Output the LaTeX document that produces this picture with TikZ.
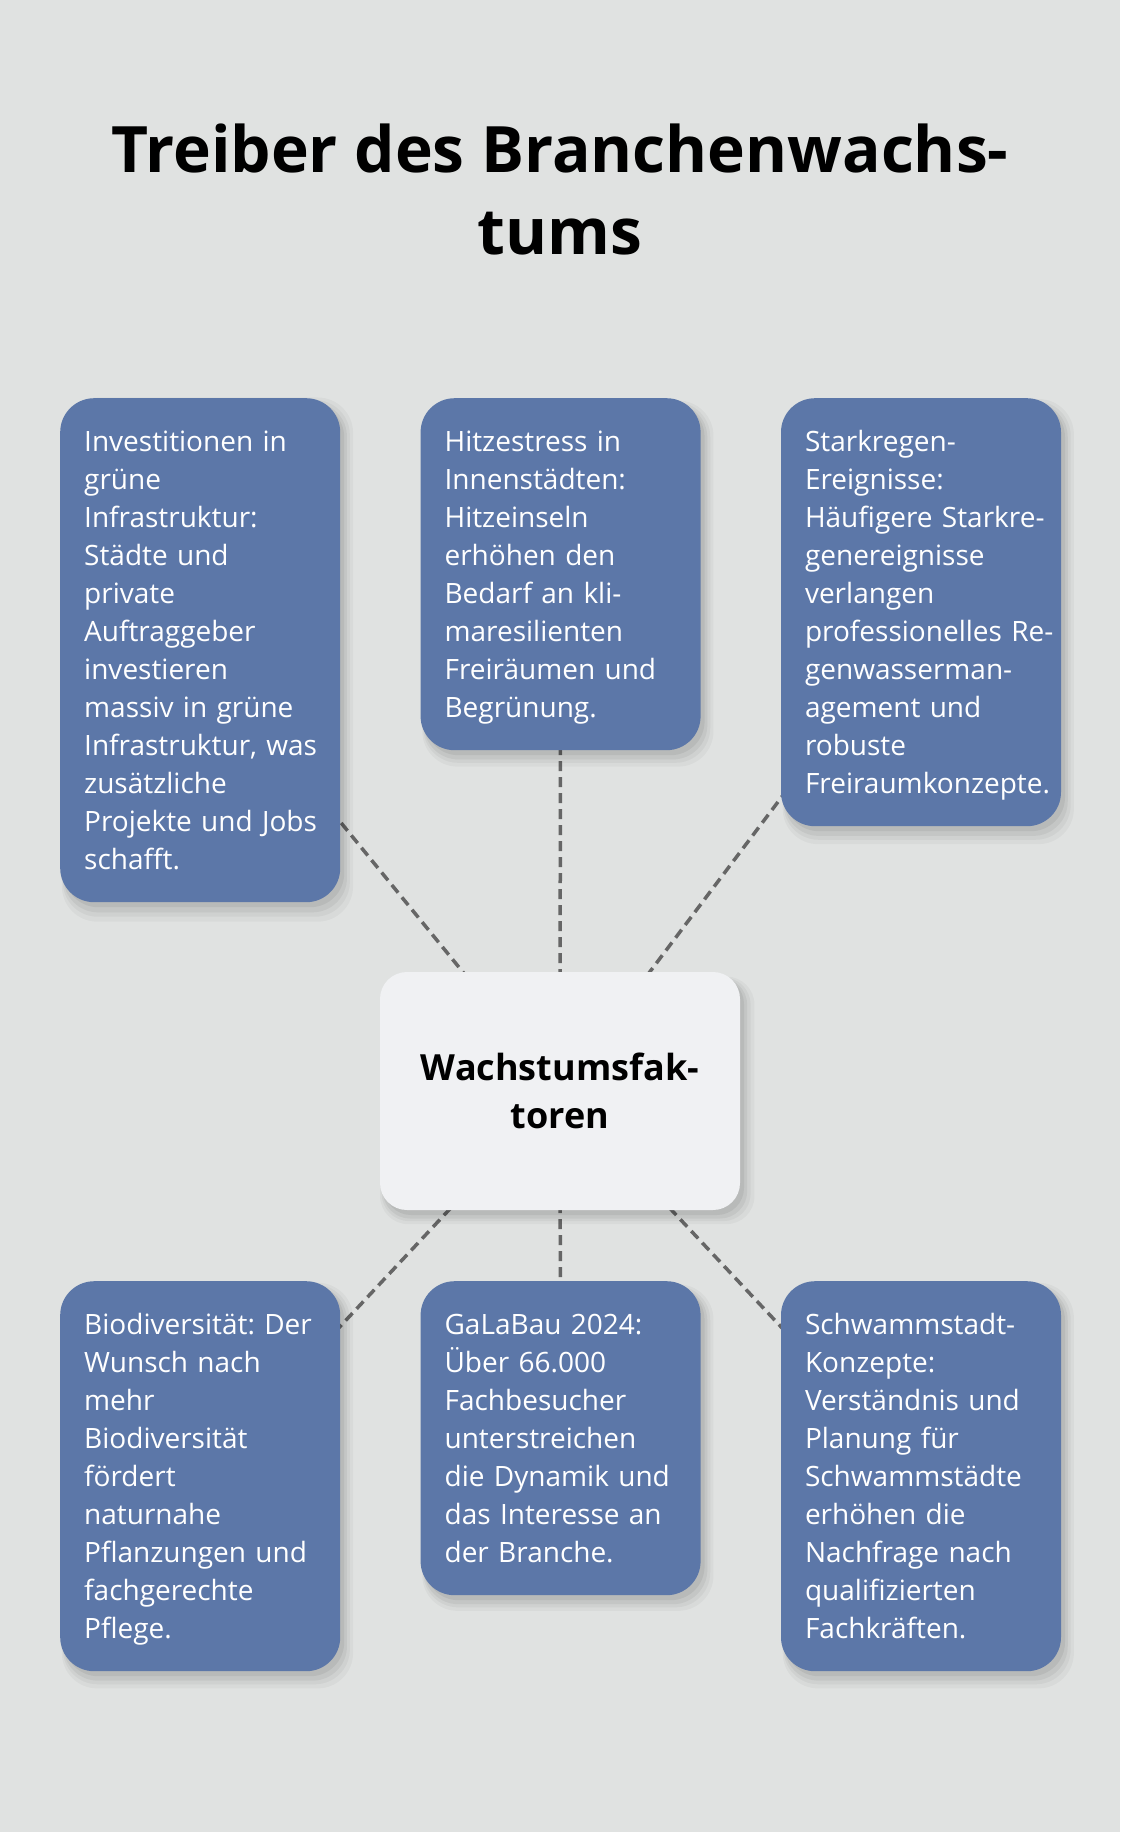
\documentclass[tikz,border=0pt]{standalone}
\usepackage{fontspec}
\setmainfont{Open Sans}
\usetikzlibrary{positioning,shadows}
\frenchspacing

\definecolor{pagebg}{HTML}{E0E2E1}
\definecolor{factorblue}{HTML}{5C77A8}
\definecolor{hubfill}{HTML}{F0F1F3}
\definecolor{linkgray}{HTML}{666666}

\pgfdeclarelayer{canvas}
\pgfdeclarelayer{links}
\pgfsetlayers{canvas,links,main}

\newcommand{\toprule}{\rule{0pt}{29pt}}
\newcommand{\botrule}{\rule[-9pt]{0pt}{9pt}}

\begin{document}
\begin{tikzpicture}[
    x=1pt, y=-1pt,
    softshadow/.style={
      general shadow={fill=black, opacity=0.03, shadow xshift=7pt, shadow yshift=-9pt, shadow scale=1.04},
      general shadow={fill=black, opacity=0.04, shadow xshift=6pt, shadow yshift=-8pt, shadow scale=1.025},
      general shadow={fill=black, opacity=0.05, shadow xshift=5pt, shadow yshift=-7pt, shadow scale=1.012},
      general shadow={fill=black, opacity=0.06, shadow xshift=4pt, shadow yshift=-5pt}},
    factor/.style={fill=factorblue, text=white, rounded corners=34pt, text width=232pt, inner xsep=24pt, inner ysep=24pt,
      align=left, anchor=north west, font=\fontsize{28}{38}\selectfont, softshadow},
    hub/.style={fill=hubfill, rounded corners=27pt, minimum width=360pt, minimum height=238pt, align=center,
      font=\fontsize{36}{48}\selectfont\bfseries, softshadow},
    link/.style={draw=linkgray, line width=3.5pt, dash pattern=on 10pt off 6pt}
]
\begin{pgfonlayer}{canvas}
\fill[pagebg] (0,0) rectangle (1120,1832);
\end{pgfonlayer}

\node[anchor=north, inner sep=0pt, align=center, font=\fontsize{64}{82}\selectfont\bfseries] (title) at (560,124) {Treiber des Branchenwachs-\\tums};

% upper row
\node[factor] (invest) at (60,398) {\toprule Investitionen in\\grüne\\Infrastruktur:\\Städte und\\private\\Auftraggeber\\investieren\\massiv in grüne\\\mbox{Infrastruktur, was}\\zusätzliche\\\mbox{Projekte und Jobs}\\schafft.\botrule};
\node[factor, right=80pt of invest.north east, anchor=north west] (heat) {\toprule Hitzestress in\\Innenstädten:\\Hitzeinseln\\erhöhen den\\Bedarf an kli-\\maresilienten\\\mbox{Freiräumen und}\\Begrünung.\botrule};
\node[factor, right=80pt of heat.north east, anchor=north west] (rain) {\toprule Starkregen-\\Ereignisse:\\\mbox{Häufigere Starkre-}\\genereignisse\\verlangen\\\mbox{professionelles Re-}\\genwasserman-\\agement und\\robuste\\\mbox{Freiraumkonzepte.}\botrule};

\node[hub] (hub) at (560,1091) {Wachstumsfak-\\toren};

% lower row
\node[factor] (bio) at (60,1281) {\toprule\mbox{Biodiversität: Der}\\Wunsch nach\\mehr\\Biodiversität\\fördert\\naturnahe\\\mbox{Pflanzungen und}\\fachgerechte\\Pflege.\botrule};
\node[factor, right=80pt of bio.north east, anchor=north west] (fair) {\toprule GaLaBau 2024:\\Über 66.000\\Fachbesucher\\unterstreichen\\\mbox{die Dynamik und}\\\mbox{das Interesse an}\\der Branche.\botrule};
\node[factor, right=80pt of fair.north east, anchor=north west] (sponge) {\toprule Schwammstadt-\\Konzepte:\\\mbox{Verständnis und}\\Planung für\\Schwammstädte\\erhöhen die\\\mbox{Nachfrage nach}\\qualifizierten\\Fachkräften.\botrule};

\begin{pgfonlayer}{links}
\foreach \f in {invest,heat,rain,bio,fair,sponge}
  \draw[link] (hub.center) -- (\f.center);
\end{pgfonlayer}
\end{tikzpicture}
\end{document}
